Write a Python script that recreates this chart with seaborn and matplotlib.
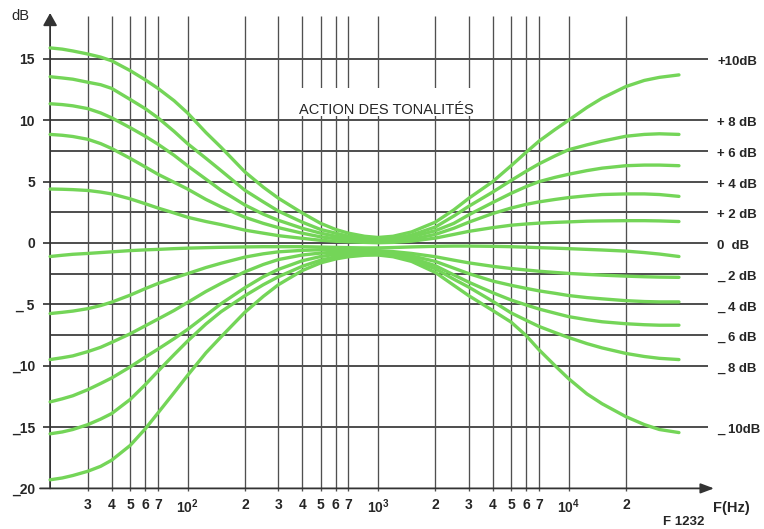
import matplotlib
matplotlib.use("Agg")
import matplotlib.pyplot as plt
from matplotlib.patches import Rectangle
from matplotlib.ticker import NullLocator
from matplotlib.transforms import blended_transform_factory
import pandas as pd
import seaborn as sns

# ---- data: gain (dB) of the tone network versus frequency (Hz) ----
FREQ_HZ = [19, 22, 25, 30, 35, 40, 50, 60, 70, 85, 100, 125, 150, 200, 250, 300,
           400, 500, 600, 700, 850, 1000, 1200, 1500, 2000, 2500, 3000, 4000, 5000,
           6000, 7000, 8500, 10000, 12500, 15000, 20000, 25000, 30000, 38000]

GAIN_P10 = [15.9, 15.8, 15.65, 15.4, 15.15, 14.85, 14.05, 13.3, 12.6, 11.6, 10.6, 9.0, 7.8,
            5.8, 4.55, 3.65, 2.45, 1.6, 1.1, 0.8, 0.55, 0.45, 0.55, 0.9, 1.7, 2.7, 3.65,
            5.0, 6.3, 7.4, 8.3, 9.25, 10.0, 11.05, 11.8, 12.75, 13.25, 13.5, 13.7]
GAIN_P8 = [13.55, 13.45, 13.35, 13.1, 12.9, 12.6, 11.7, 10.95, 10.2, 9.1, 8.1, 6.9, 5.9,
           4.3, 3.35, 2.6, 1.7, 1.1, 0.8, 0.55, 0.4, 0.3, 0.35, 0.65, 1.3, 2.2, 3.0,
           4.15, 5.1, 5.85, 6.45, 7.1, 7.6, 8.0, 8.3, 8.7, 8.85, 8.9, 8.85]
GAIN_P6 = [11.35, 11.28, 11.18, 10.95, 10.6, 10.2, 9.4, 8.7, 8.05, 7.15, 6.3, 5.2, 4.3,
           3.1, 2.35, 1.85, 1.2, 0.8, 0.55, 0.4, 0.28, 0.2, 0.25, 0.5, 1.0, 1.6, 2.3,
           3.3, 4.05, 4.6, 5.0, 5.35, 5.6, 5.9, 6.1, 6.3, 6.35, 6.35, 6.3]
GAIN_P4 = [8.85, 8.78, 8.68, 8.45, 8.1, 7.7, 6.9, 6.2, 5.6, 4.95, 4.4, 3.55, 2.95,
           2.1, 1.6, 1.25, 0.8, 0.5, 0.35, 0.25, 0.15, 0.1, 0.15, 0.3, 0.7, 1.2, 1.7,
           2.4, 2.85, 3.15, 3.35, 3.55, 3.7, 3.85, 3.95, 4.0, 4.0, 3.95, 3.8]
GAIN_P2 = [4.4, 4.38, 4.35, 4.28, 4.15, 4.0, 3.6, 3.2, 2.85, 2.45, 2.1, 1.75, 1.5,
           1.05, 0.8, 0.6, 0.38, 0.22, 0.14, 0.1, 0.05, 0.02, 0.05, 0.15, 0.4, 0.7, 0.95,
           1.25, 1.45, 1.55, 1.62, 1.68, 1.72, 1.78, 1.8, 1.82, 1.82, 1.8, 1.75]
GAIN_0 = [-1.1, -1.0, -0.92, -0.85, -0.78, -0.72, -0.62, -0.56, -0.52, -0.46, -0.42, -0.38, -0.35,
          -0.32, -0.3, -0.3, -0.3, -0.33, -0.36, -0.38, -0.4, -0.4, -0.37, -0.32, -0.27, -0.25, -0.25,
          -0.27, -0.3, -0.34, -0.38, -0.42, -0.46, -0.52, -0.57, -0.66, -0.78, -0.9, -1.1]
GAIN_M2 = [-5.75, -5.65, -5.55, -5.35, -5.1, -4.82, -4.25, -3.72, -3.3, -2.85, -2.5, -2.0, -1.65,
           -1.15, -0.88, -0.72, -0.6, -0.55, -0.54, -0.55, -0.57, -0.62, -0.7, -0.85, -1.12, -1.4, -1.62,
           -1.9, -2.08, -2.2, -2.3, -2.4, -2.48, -2.56, -2.62, -2.7, -2.75, -2.78, -2.8]
GAIN_M4 = [-9.5, -9.35, -9.2, -8.85, -8.5, -8.1, -7.4, -6.75, -6.2, -5.5, -4.85, -3.95, -3.3,
           -2.35, -1.75, -1.35, -0.98, -0.82, -0.74, -0.7, -0.7, -0.74, -0.84, -1.05, -1.5, -2.05, -2.5,
           -3.1, -3.45, -3.7, -3.9, -4.1, -4.28, -4.45, -4.55, -4.7, -4.77, -4.8, -4.8]
GAIN_M6 = [-12.95, -12.7, -12.45, -11.95, -11.45, -11.0, -10.1, -9.3, -8.65, -7.8, -7.05, -5.9, -4.95,
           -3.65, -2.75, -2.15, -1.45, -1.1, -0.92, -0.84, -0.8, -0.82, -0.95, -1.22, -1.85, -2.6, -3.2,
           -4.05, -4.65, -5.05, -5.38, -5.72, -6.0, -6.25, -6.42, -6.58, -6.66, -6.7, -6.7]
GAIN_M8 = [-15.55, -15.4, -15.2, -14.8, -14.35, -13.9, -12.75, -11.55, -10.45, -9.1, -8.0, -6.6, -5.6,
           -4.3, -3.4, -2.75, -1.9, -1.4, -1.12, -0.98, -0.9, -0.9, -1.05, -1.38, -2.1, -2.95, -3.6,
           -4.75, -5.7, -6.3, -6.8, -7.3, -7.7, -8.2, -8.55, -9.0, -9.25, -9.4, -9.5]
GAIN_M10 = [-19.3, -19.15, -18.95, -18.6, -18.2, -17.7, -16.5, -15.15, -13.85, -12.2, -10.8, -8.95, -7.65,
            -5.65, -4.35, -3.4, -2.25, -1.62, -1.3, -1.12, -1.0, -0.98, -1.12, -1.5, -2.4, -3.45, -4.3,
            -5.5, -6.45, -7.55, -8.7, -10.0, -11.05, -12.3, -13.1, -14.15, -14.8, -15.2, -15.45]

SETTINGS = ["+10dB", "+ 8 dB", "+ 6 dB", "+ 4 dB", "+ 2 dB", "0  dB",
            "_ 2 dB", "_ 4 dB", "_ 6 dB", "_ 8 dB", "_ 10dB"]
SETTING_LEVELS = [15, 10, 7.5, 5, 2.5, 0, -2.5, -5, -7.5, -10, -15]

X_TICKS = [30, 40, 50, 60, 70, 100, 200, 300, 400, 500, 600, 700, 1000,
           2000, 3000, 4000, 5000, 6000, 7000, 10000, 20000]
X_TICK_LABELS = ["3", "4", "5", "6", "7", r"$\mathregular{10^{2}}$",
                 "2", "3", "4", "5", "6", "7", r"$\mathregular{10^{3}}$",
                 "2", "3", "4", "5", "6", "7", r"$\mathregular{10^{4}}$", "2"]
Y_TICKS = [15, 10, 5, 0, -5, -10, -15, -20]
Y_TICK_LABELS = ["15", "10", "5", "0", "_ 5", "_10", "_15", "_20"]
MINOR_LEVELS = [7.5, 2.5, -2.5, -7.5]

TITLE = "ACTION DES TONALITÉS"

# ---- styling ----
sns.set_style("white")
plt.rcParams["font.family"] = ["Liberation Sans", "DejaVu Sans"]
plt.rcParams["mathtext.fontset"] = "custom"
plt.rcParams["mathtext.rm"] = "Liberation Sans:bold"

GREEN = "#74d558"
INK = "#262626"
HLINE = "#1c1c1c"
VLINE = "#505050"

W, H = 764, 529


def fx(px):
    """Frequency that sits at a given horizontal pixel of the sheet."""
    return 100 * 10 ** ((px - 187.5) / 190.5)


def dby(py):
    """Gain that sits at a given vertical pixel of the sheet."""
    return (243 - py) / 12.27


F_AXIS = FREQ_HZ[0]

fig = plt.figure(figsize=(W / 100, H / 100), dpi=100)
ax = fig.add_axes([40 / W, (H - 495) / H, 680 / W, (495 - 8) / H])
ax.set_xscale("log")
ax.set_xlim(fx(40), fx(720))
ax.set_ylim(dby(495), dby(8))
for s in ax.spines.values():
    s.set_visible(False)

# grid
ax.hlines([v for v in Y_TICKS if v != -20], fx(43), fx(708), color=HLINE, lw=1.1, zorder=1)
ax.hlines(MINOR_LEVELS, F_AXIS, fx(708), color=HLINE, lw=1.1, zorder=1)
ax.vlines(X_TICKS, dby(491), dby(16), color=VLINE, lw=0.95, zorder=1)

# clear band behind the title
ax.add_patch(Rectangle((fx(295), dby(116)), fx(478) - fx(295), dby(88) - dby(116),
                       facecolor="white", edgecolor="none", zorder=1.5))
ax.text(fx(386), dby(110), TITLE, ha="center", va="center", fontsize=10.5,
        color=INK, zorder=2)

# axes with arrow heads
ax.annotate("", xy=(fx(714), -20), xytext=(fx(40), -20),
            arrowprops=dict(arrowstyle="-|>,head_length=0.8,head_width=0.3",
                            color="#333333", lw=1.3, shrinkA=0, shrinkB=0,
                            mutation_scale=10), zorder=2)
ax.annotate("", xy=(F_AXIS, dby(13)), xytext=(F_AXIS, -20),
            arrowprops=dict(arrowstyle="-|>,head_length=0.75,head_width=0.42",
                            color="#333333", lw=1.3, shrinkA=0, shrinkB=0,
                            mutation_scale=10), zorder=2)

# response curves
gains = [GAIN_P10, GAIN_P8, GAIN_P6, GAIN_P4, GAIN_P2, GAIN_0,
         GAIN_M2, GAIN_M4, GAIN_M6, GAIN_M8, GAIN_M10]
rows = []
for name, g in zip(SETTINGS, gains):
    for f, v in zip(FREQ_HZ, g):
        rows.append((name, f, v))
df = pd.DataFrame(rows, columns=["setting", "freq", "gain"])
sns.lineplot(data=df, x="freq", y="gain", units="setting", estimator=None,
             color=GREEN, lw=2.4, ax=ax, legend=False, zorder=3,
             solid_capstyle="round", solid_joinstyle="round")

# ticks
ax.xaxis.set_minor_locator(NullLocator())
ax.yaxis.set_minor_locator(NullLocator())
ax.set_xticks(X_TICKS, labels=X_TICK_LABELS)
ax.set_yticks(Y_TICKS, labels=Y_TICK_LABELS)
ax.tick_params(axis="x", length=0, pad=2, labelsize=10, labelcolor=INK)
ax.tick_params(axis="y", length=0, pad=3.6, labelsize=10, labelcolor=INK)
for lab in ax.get_xticklabels() + ax.get_yticklabels():
    lab.set_fontweight("bold")
ax.set_xlabel("")
ax.set_ylabel("")

# setting labels on the right
tr = blended_transform_factory(ax.transAxes, ax.transData)
for name, lvl in zip(SETTINGS, SETTING_LEVELS):
    ax.text((717 - 40) / 680, lvl - 0.25, name, transform=tr, ha="left", va="center",
            fontsize=9.5, fontweight="bold", color=INK, clip_on=False)

fig.text(20 / W, 1 - 16 / H, "dB", ha="center", va="center", fontsize=10.5, color=INK)
fig.text(731 / W, 1 - 508 / H, "F(Hz)", ha="center", va="center", fontsize=10.5,
         fontweight="bold", color=INK)
fig.text(684 / W, 1 - 522 / H, "F 1232", ha="center", va="center", fontsize=9.5,
         fontweight="bold", color=INK)

fig.savefig("out.png", dpi=100, facecolor="white")
